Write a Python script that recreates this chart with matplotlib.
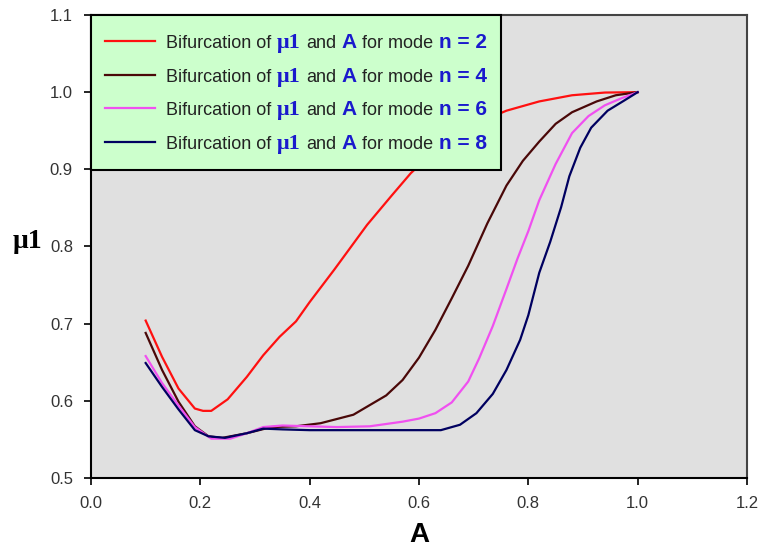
import matplotlib
matplotlib.use('Agg')
import matplotlib.pyplot as plt
from matplotlib.offsetbox import TextArea, HPacker, VPacker, DrawingArea, AnchoredOffsetbox
from matplotlib.lines import Line2D

plt.rcParams['font.family'] = 'Liberation Sans'

# data
a_n2 = [0.1, 0.13, 0.16, 0.19, 0.205, 0.22, 0.25, 0.285, 0.315, 0.345, 0.375, 0.4, 0.445,
        0.505, 0.55, 0.585, 0.62, 0.66, 0.7, 0.76, 0.82, 0.88, 0.94, 1.0]
mu_n2 = [0.704, 0.657, 0.616, 0.590, 0.587, 0.587, 0.602, 0.631, 0.659, 0.683, 0.703, 0.728,
         0.770, 0.828, 0.866, 0.895, 0.918, 0.940, 0.958, 0.976, 0.988, 0.996, 0.9995, 1.0]

a_n4 = [0.1, 0.13, 0.16, 0.19, 0.215, 0.24, 0.285, 0.33, 0.375, 0.42, 0.48, 0.54, 0.57,
        0.6, 0.63, 0.66, 0.69, 0.725, 0.76, 0.79, 0.82, 0.85, 0.88, 0.925, 0.96, 1.0]
mu_n4 = [0.688, 0.640, 0.599, 0.567, 0.554, 0.552, 0.558, 0.566, 0.567, 0.571, 0.582, 0.607,
         0.627, 0.656, 0.692, 0.733, 0.775, 0.830, 0.879, 0.911, 0.936, 0.959, 0.974, 0.988,
         0.996, 1.0]

a_n6 = [0.1, 0.13, 0.16, 0.19, 0.22, 0.255, 0.285, 0.315, 0.35, 0.4, 0.45, 0.51, 0.57, 0.6,
        0.63, 0.66, 0.69, 0.71, 0.735, 0.76, 0.78, 0.8, 0.82, 0.85, 0.88, 0.91, 0.94, 0.97, 1.0]
mu_n6 = [0.658, 0.623, 0.594, 0.566, 0.551, 0.551, 0.558, 0.566, 0.568, 0.567, 0.566, 0.567,
         0.573, 0.577, 0.584, 0.598, 0.625, 0.655, 0.697, 0.745, 0.784, 0.820, 0.860, 0.907,
         0.947, 0.969, 0.983, 0.992, 1.0]

a_n8 = [0.1, 0.13, 0.16, 0.19, 0.215, 0.245, 0.285, 0.315, 0.35, 0.4, 0.5, 0.6, 0.64, 0.675,
        0.705, 0.735, 0.76, 0.785, 0.8, 0.82, 0.84, 0.86, 0.875, 0.895, 0.915, 0.945, 0.975, 1.0]
mu_n8 = [0.649, 0.618, 0.589, 0.562, 0.554, 0.552, 0.558, 0.564, 0.563, 0.562, 0.562, 0.562,
         0.562, 0.569, 0.584, 0.609, 0.640, 0.679, 0.711, 0.766, 0.806, 0.851, 0.891, 0.928,
         0.954, 0.976, 0.989, 1.0]

modes = ['2', '4', '6', '8']
colors = ['#ff1010', '#4a0808', '#f050f0', '#000060']
xticks = [0.0, 0.2, 0.4, 0.6, 0.8, 1.0, 1.2]
yticks = [0.5, 0.6, 0.7, 0.8, 0.9, 1.0, 1.1]

fig = plt.figure(figsize=(7.62, 5.55), dpi=100)
ax = fig.add_axes([91/762, 1 - 478/555, (747-91)/762, (478-15)/555])
ax.set_facecolor('#e0e0e0')

for a, mu, c in zip([a_n2, a_n4, a_n6, a_n8], [mu_n2, mu_n4, mu_n6, mu_n8], colors):
    ax.plot(a, mu, color=c, lw=1.6, solid_joinstyle='round')

ax.set_xlim(0, 1.2)
ax.set_ylim(0.5, 1.1)
ax.set_xticks(xticks)
ax.set_yticks(yticks)
ax.set_xticklabels(['%.1f' % v for v in xticks])
ax.set_yticklabels(['%.1f' % v for v in yticks])
ax.tick_params(direction='out', length=5, width=1.2, labelsize=12, labelcolor='#333333', pad=8)
for s in ['left', 'bottom']:
    ax.spines[s].set_linewidth(1.5)
    ax.spines[s].set_color('black')
for s in ['top', 'right']:
    ax.spines[s].set_linewidth(1.5)
    ax.spines[s].set_color('#444444')

ax.set_xlabel('A', fontsize=20, fontweight='bold', labelpad=8)
fig.text(27/762, 1 - 242/555, '\u03bc1', fontsize=20, fontweight='bold',
         family='Liberation Serif', ha='center', va='center')

# legend with mixed styling
blue = '#1a1acc'
grey = dict(fontsize=13, color='#222222')
bold = dict(fontsize=15, color=blue, fontweight='bold')
rows = []
for m, c in zip(modes, colors):
    da = DrawingArea(36, 12, 0, 0)
    da.add_artist(Line2D([0, 36], [5, 5], color=c, lw=1.6))
    words = HPacker(children=[
        TextArea('Bifurcation of', textprops=grey),
        TextArea('\u03bc1', textprops=dict(fontsize=16, color=blue, fontweight='bold',
                                           family='Liberation Serif')),
        TextArea('and', textprops=grey),
        TextArea('A', textprops=bold),
        TextArea('for mode', textprops=grey),
        TextArea('n = ' + m, textprops=bold),
    ], align='baseline', pad=0, sep=4)
    rows.append(HPacker(children=[da, words], align='baseline', pad=0, sep=8))
inner = VPacker(children=rows, align='left', pad=0, sep=8.5)
box = VPacker(children=[DrawingArea(1, 0), inner, DrawingArea(1, 0)], align='left', pad=0, sep=2)
anch = AnchoredOffsetbox(loc='upper left', child=box, pad=1.0, borderpad=0,
                         frameon=True, bbox_to_anchor=(0, 1), bbox_transform=ax.transAxes)
anch.patch.set_facecolor('#ccffcc')
anch.patch.set_edgecolor('black')
anch.patch.set_linewidth(1.5)
anch.patch.set_boxstyle('square', pad=0)
ax.add_artist(anch)

fig.savefig('out.png', dpi=100)
